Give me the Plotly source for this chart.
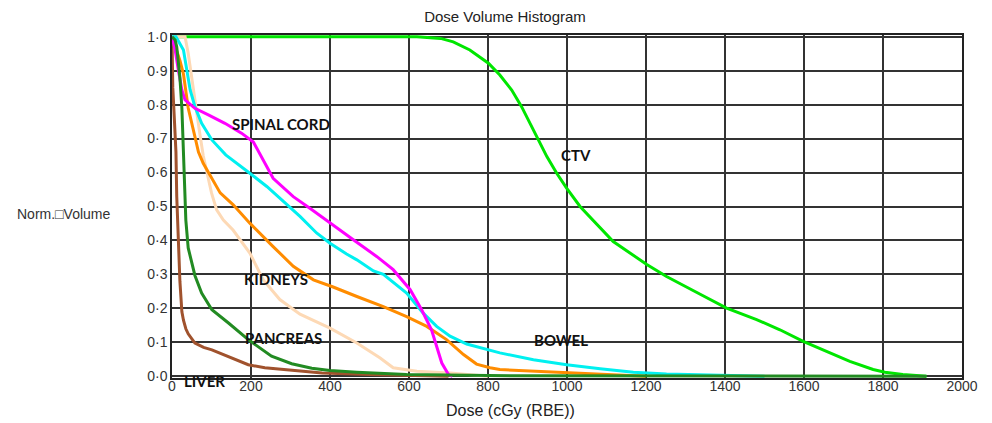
import plotly.graph_objects as go

# ---- data (dose in cGy (RBE), normalised volume) ----
ctv_dose = [0, 620, 680, 712, 754, 801, 830, 860, 885, 906, 927, 949, 974, 999, 1033, 1117, 1202, 1252, 1330, 1404, 1480, 1539, 1598, 1657, 1716, 1775, 1805, 1850, 1910]
ctv_vol = [1.0, 1.0, 0.995, 0.985, 0.961, 0.922, 0.887, 0.843, 0.794, 0.745, 0.696, 0.647, 0.598, 0.554, 0.5, 0.397, 0.329, 0.294, 0.246, 0.201, 0.167, 0.137, 0.103, 0.074, 0.044, 0.02, 0.012, 0.005, 0.0]

peach_dose = [0, 33, 41, 54, 63, 71, 79, 92, 100, 113, 130, 155, 197, 231, 273, 324, 400, 468, 527, 560, 620, 704, 800]
peach_vol = [1.0, 1.0, 0.951, 0.84, 0.775, 0.71, 0.65, 0.58, 0.54, 0.49, 0.46, 0.43, 0.363, 0.284, 0.226, 0.183, 0.142, 0.098, 0.054, 0.025, 0.015, 0.01, 0.0]

liver_dose = [0, 2, 5, 8, 10, 12, 14, 16, 20, 25, 29, 35, 41, 58, 80, 101, 151, 193, 235, 300, 380, 500, 700]
liver_vol = [1.0, 0.85, 0.78, 0.72, 0.66, 0.53, 0.45, 0.37, 0.28, 0.19, 0.165, 0.14, 0.125, 0.098, 0.085, 0.078, 0.054, 0.034, 0.025, 0.018, 0.01, 0.005, 0.0]

kidney_dose = [0, 20, 29, 41, 58, 67, 79, 96, 122, 155, 197, 256, 307, 358, 408, 468, 535, 594, 645, 695, 738, 771, 805, 830, 915, 999, 1084, 1200]
kidney_vol = [1.0, 0.93, 0.89, 0.79, 0.706, 0.66, 0.627, 0.593, 0.54, 0.505, 0.451, 0.382, 0.324, 0.284, 0.263, 0.235, 0.205, 0.176, 0.147, 0.108, 0.064, 0.036, 0.025, 0.02, 0.015, 0.01, 0.005, 0.0]

bowel_dose = [0, 10, 29, 37, 46, 58, 75, 101, 136, 197, 240, 282, 324, 366, 400, 442, 468, 510, 535, 594, 636, 670, 704, 746, 797, 830, 915, 999, 1084, 1168, 1252, 1340, 1500]
bowel_vol = [1.0, 1.0, 0.961, 0.902, 0.843, 0.794, 0.745, 0.696, 0.652, 0.598, 0.559, 0.515, 0.471, 0.422, 0.392, 0.36, 0.343, 0.31, 0.3, 0.245, 0.186, 0.147, 0.118, 0.095, 0.079, 0.069, 0.049, 0.034, 0.022, 0.012, 0.007, 0.004, 0.0]

cord_dose = [0, 8, 16, 25, 33, 58, 92, 134, 176, 206, 256, 307, 349, 400, 459, 518, 560, 603, 632, 657, 670, 683, 700, 710]
cord_vol = [1.0, 0.961, 0.902, 0.843, 0.814, 0.789, 0.770, 0.745, 0.716, 0.69, 0.583, 0.529, 0.495, 0.451, 0.402, 0.353, 0.314, 0.255, 0.196, 0.137, 0.088, 0.039, 0.005, 0.0]

pancreas_dose = [0, 8, 12, 20, 25, 29, 32, 35, 41, 58, 75, 101, 143, 193, 252, 303, 354, 400, 468, 594, 800, 1910]
pancreas_vol = [1.0, 0.99, 0.97, 0.88, 0.79, 0.65, 0.53, 0.46, 0.378, 0.297, 0.245, 0.196, 0.157, 0.108, 0.059, 0.037, 0.024, 0.017, 0.012, 0.005, 0.002, 0.0]

x_ticks = [0, 200, 400, 600, 800, 1000, 1200, 1400, 1600, 1800, 2000]
y_ticks = [0.0, 0.1, 0.2, 0.3, 0.4, 0.5, 0.6, 0.7, 0.8, 0.9, 1.0]
y_tick_text = ["0·0", "0·1", "0·2", "0·3", "0·4", "0·5", "0·6", "0·7", "0·8", "0·9", "1·0"]

labels = ["SPINAL CORD", "CTV", "KIDNEYS", "PANCREAS", "BOWEL", "LIVER"]
label_x = [276, 1023, 264, 283, 984, 81]
label_y = [0.743, 0.652, 0.286, 0.112, 0.108, -0.015]

series = [
    (ctv_dose, ctv_vol, "#00E600", "CTV"),
    (peach_dose, peach_vol, "#FDD9B5", "peach"),
    (liver_dose, liver_vol, "#A0522D", "Liver"),
    (kidney_dose, kidney_vol, "#FF8C00", "Kidneys"),
    (bowel_dose, bowel_vol, "#00F0F0", "Bowel"),
    (cord_dose, cord_vol, "#FF00FF", "Spinal cord"),
    (pancreas_dose, pancreas_vol, "#228B22", "Pancreas"),
]

Y_MIN, Y_MAX = -0.005, 1.005

# page body has an 8px margin: figure sits at (8, 8)
W, H = 984, 415
L, R, T, B = 164, 30, 27, 45
PW, PH = W - L - R, H - T - B


def px_to_paper(px, py):
    # absolute page pixel -> paper coordinates
    return (px - 8 - L) / PW, (H - B - (py - 8)) / PH


fig = go.Figure()
for xs, ys, col, nm in series:
    fig.add_trace(go.Scatter(x=xs, y=ys, mode="lines", name=nm,
                             line=dict(color=col, width=3), hoverinfo="x+y"))

for t, x, y in zip(labels, label_x, label_y):
    # y given in data units; converted to paper so labels below the axis still show
    fig.add_annotation(x=x, y=(y - Y_MIN) / (Y_MAX - Y_MIN), xref="x", yref="paper",
                       xanchor="center", yanchor="middle",
                       text="<b>" + t + "</b>",
                       showarrow=False, font=dict(family="Lato", size=15, color="#111"))

yx, yy = px_to_paper(15, 214)
fig.add_annotation(x=yx, y=yy, xref="paper", yref="paper", text="Norm.\u25A1Volume",
                   showarrow=False, xanchor="left", yanchor="middle",
                   font=dict(family="Liberation Sans", size=14, color="#333"))

xx, xy = px_to_paper(510, 410)
fig.add_annotation(x=xx, y=xy, xref="paper", yref="paper", text="Dose (cGy (RBE))",
                   showarrow=False, xanchor="center", yanchor="middle",
                   font=dict(family="Liberation Sans", size=16, color="#222"))

fig.update_layout(
    width=W, height=H,
    margin=dict(l=L, r=R, t=T, b=B),
    paper_bgcolor="white", plot_bgcolor="white",
    showlegend=False,
    title=dict(text="Dose Volume Histogram", x=(505 - 8) / W, xref="container",
               y=1 - (17 - 8) / H, yref="container",
               xanchor="center", yanchor="middle",
               font=dict(family="Liberation Sans", size=15, color="#222")),
    font=dict(family="Liberation Sans", size=14, color="#333"),
)
fig.update_xaxes(range=[0, 2000], tickvals=x_ticks, ticktext=[str(v) for v in x_ticks],
                 showgrid=True, gridcolor="#333", gridwidth=1.5,
                 showline=True, linecolor="#222", linewidth=1.5, mirror=True,
                 zeroline=False, ticks="", ticklabelstandoff=-6)
fig.update_yaxes(range=[Y_MIN, Y_MAX], tickvals=y_ticks, ticktext=y_tick_text,
                 showgrid=True, gridcolor="#333", gridwidth=1.5,
                 showline=True, linecolor="#222", linewidth=1.5, mirror=True,
                 zeroline=False, ticks="")

fig.write_html("out.html")
